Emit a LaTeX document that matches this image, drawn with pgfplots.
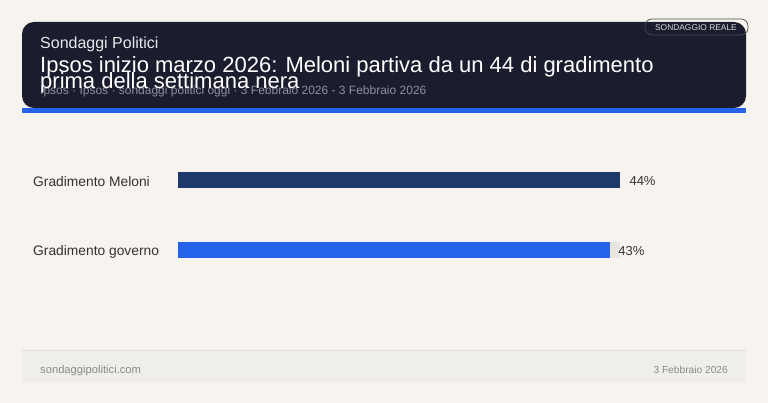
\documentclass[border=0pt]{standalone}
\usepackage{pgfplots}
\pgfplotsset{compat=1.18}
\usepackage{fontspec}
\setmainfont{Liberation Sans}
\definecolor{bg}{HTML}{F7F3EE}
\definecolor{hdr}{HTML}{1B1C2E}
\definecolor{navy}{HTML}{1D3A6A}
\definecolor{blu}{HTML}{2563EB}
\definecolor{track}{HTML}{E8E5DF}
\definecolor{foot}{HTML}{EFEEEA}
\definecolor{footline}{HTML}{E3E0D9}
\definecolor{txt}{HTML}{333333}
\definecolor{subt}{HTML}{8E8FA0}
\definecolor{ftxt}{HTML}{8A8A8A}
\begin{document}
\begin{tikzpicture}[x=1pt,y=1pt]
% background
\fill[bg] (0,0) rectangle (768,403);
% header
\fill[hdr,rounded corners=12pt] (22,403-108) rectangle (746,403-22);
\fill[blu] (22,403-113) rectangle (746,403-108);
% badge
\draw[black!70,line width=0.7pt,rounded corners=7pt] (645,403-35) rectangle (748,403-19);
\node[anchor=east,inner sep=0pt,text=black!15,font=\fontsize{8.4}{10}\selectfont] at (737,403-28) {SONDAGGIO REALE};
% header texts
\node[anchor=base west,inner sep=0pt,text=white!90!hdr,font=\fontsize{16}{18}\selectfont] at (40,403-49) {Sondaggi Politici};
\node[anchor=base west,inner sep=0pt,text=subt,font=\fontsize{12}{14}\selectfont] at (40,403-95) {Ipsos · Ipsos · sondaggi politici oggi · 3 Febbraio 2026 - 3 Febbraio 2026};
\node[anchor=base west,inner sep=0pt,text=white,font=\fontsize{22}{24}\selectfont] at (40,403-73) {Ipsos inizio marzo 2026: Meloni partiva da un 44 di gradimento};
\node[anchor=base west,inner sep=0pt,text=white,font=\fontsize{22}{24}\selectfont] at (40,403-89) {prima della settimana nera};
% footer
\fill[foot] (22,403-382) rectangle (746,403-350);
\fill[footline] (22,403-351.5) rectangle (746,403-350);
\node[anchor=base west,inner sep=0pt,text=ftxt,font=\fontsize{11.2}{13}\selectfont] at (40,403-374) {sondaggipolitici.com};
\node[anchor=base east,inner sep=0pt,text=ftxt,font=\fontsize{10.2}{12}\selectfont] at (728,403-374) {3 Febbraio 2026};
% chart
\begin{axis}[
  at={(178pt,118pt)}, anchor=south west,
  scale only axis, width=442pt, height=140pt,
  xbar, xmin=0, xmax=44, ymin=-0.5, ymax=1.5,
  axis line style={draw=none},
  xtick=\empty, ytick={0,1},
  yticklabels={Gradimento governo,Gradimento Meloni},
  major tick length=0pt, ytick style={draw=none},
  /pgf/number format/assume math mode=true,
  yticklabel style={anchor=west, inner sep=0pt, xshift=-145pt, yshift=-2pt, text=txt, font=\fontsize{13.8}{15}\selectfont},
  bar width=16pt, bar shift=0pt,
  clip=false,
]
\addplot[fill=track,draw=none] coordinates {(44,0) (44,1)};
\addplot[fill=navy,draw=none,nodes near coords={\pgfmathprintnumber{\pgfplotspointmeta}\%},
  nodes near coords style={anchor=west,xshift=6pt,yshift=-1pt,text=txt,font=\fontsize{13}{15}\selectfont},
  point meta=x] coordinates {(44,1)};
\addplot[fill=blu,draw=none,nodes near coords={\pgfmathprintnumber{\pgfplotspointmeta}\%},
  nodes near coords style={anchor=west,xshift=5pt,yshift=-1pt,text=txt,font=\fontsize{13}{15}\selectfont},
  point meta=x] coordinates {(43,0)};
\end{axis}
\end{tikzpicture}
\end{document}
